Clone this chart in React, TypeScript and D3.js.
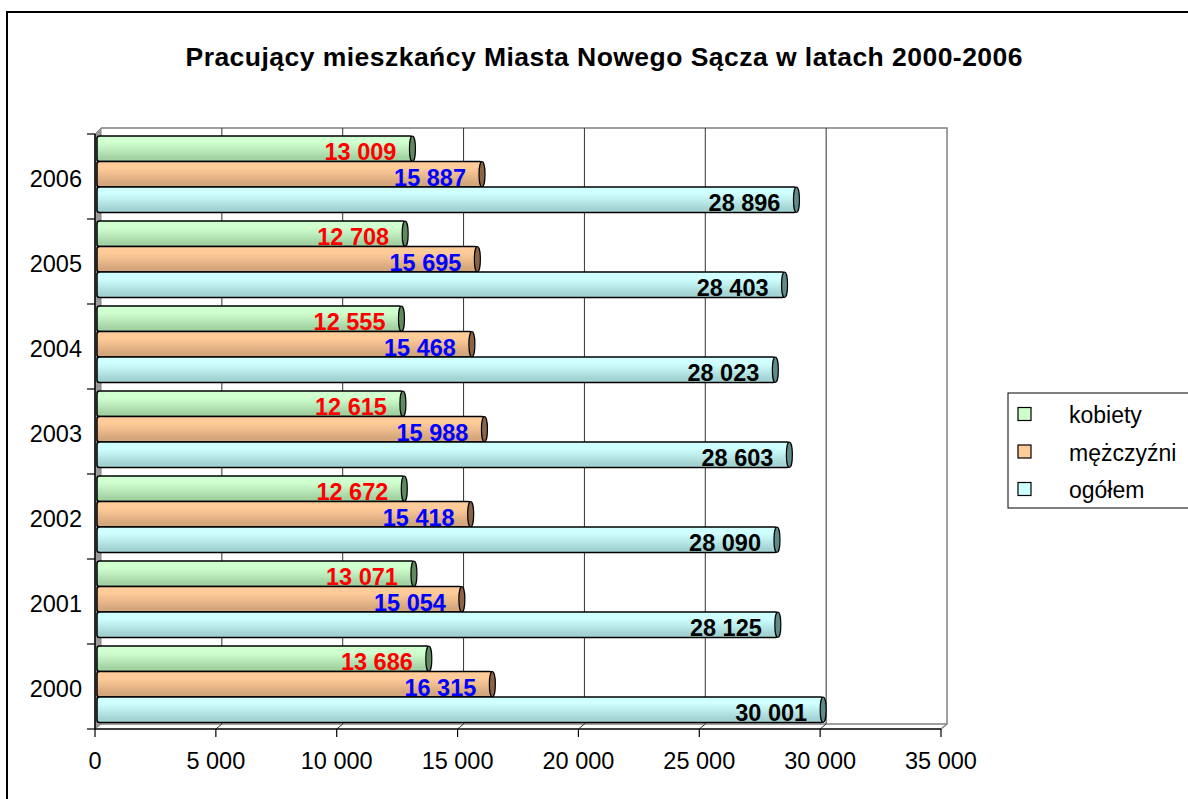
import React from "react";
import * as d3 from "d3";

const years = ["2000", "2001", "2002", "2003", "2004", "2005", "2006"];
const kobiety = [13686, 13071, 12672, 12615, 12555, 12708, 13009];
const mezczyzni = [16315, 15054, 15418, 15988, 15468, 15695, 15887];
const ogolem = [30001, 28125, 28090, 28603, 28023, 28403, 28896];
const seriesNames = ["kobiety", "mężczyźni", "ogółem"];
const xTicks = [0, 5000, 10000, 15000, 20000, 25000, 30000, 35000];
const title = "Pracujący mieszkańcy Miasta Nowego Sącza w latach 2000-2006";

const seriesStyle = [
  { top: "#d0ffd0", mid: "#bfeebf", bot: "#a3d3a3", cap: "#5e8a5e", sw: "#ccffcc", label: "#ff0000" },
  { top: "#ffcc99", mid: "#efbd8e", bot: "#d4a67c", cap: "#8a6444", sw: "#ffcc99", label: "#0000ff" },
  { top: "#d0ffff", mid: "#bfeeee", bot: "#a3d3d3", cap: "#5e8a8a", sw: "#ccffff", label: "#000000" },
];

const fmt = d3
  .formatLocale({ decimal: ",", thousands: "\u00a0", grouping: [3], currency: ["", ""] })
  .format(",d");

const FONT = "Arial, 'Liberation Sans', sans-serif";

export default function App() {
  const W = 1188;
  const H = 799;
  const x0 = 95;
  const x1 = 941;
  const yTop = 134;
  const yBot = 729;
  const dx = 6;
  const dy = -5;

  const x = d3.scaleLinear().domain([0, 35000]).range([x0, x1]);
  const yCat = d3.scaleBand<string>().domain([...years].reverse()).range([yTop, yBot]).padding(0);
  const bw = yCat.bandwidth();
  const ySer = d3.scaleBand<string>().domain(seriesNames).range([2, 2 + 76.5]).padding(0);
  const bh = ySer.bandwidth();
  const data = [kobiety, mezczyzni, ogolem];

  const boundaries = d3.range(years.length + 1).map((i) => yTop + i * bw);

  return (
    <svg
      width={W}
      height={H}
      style={{ position: "absolute", left: 0, top: 0, background: "#fff" }}
      fontFamily={FONT}
    >
      <defs>
        {seriesStyle.map((s, i) => (
          <linearGradient key={i} id={`g${i}`} x1="0" y1="0" x2="0" y2="1">
            <stop offset="0" stopColor={s.top} />
            <stop offset="0.25" stopColor={s.top} />
            <stop offset="0.5" stopColor={s.mid} />
            <stop offset="0.85" stopColor={s.bot} />
            <stop offset="1" stopColor={s.bot} />
          </linearGradient>
        ))}
      </defs>
      <rect x={7} y={12} width={1220} height={820} fill="#fff" stroke="#000" strokeWidth={2} />

      <text
        x={604}
        y={66}
        textAnchor="middle"
        fontWeight="bold"
        fontSize={26.5}
        textLength={837}
        lengthAdjust="spacing"
      >
        {title}
      </text>

      {/* left wall */}
      <polygon
        points={`${x0},${yTop} ${x0 + dx},${yTop + dy - 1} ${x0 + dx},${yBot + dy} ${x0},${yBot}`}
        fill="#9a9a9a"
        stroke="#808080"
        strokeWidth={1}
      />
      {/* back wall outline */}
      <polyline
        points={`${x0 + dx},${yTop + dy - 1} ${x1 + dx},${yTop + dy - 1} ${x1 + dx},${yBot + dy} ${x1},${yBot}`}
        fill="none"
        stroke="#808080"
        strokeWidth={1.5}
      />
      <line x1={x0 + dx} y1={yBot + dy} x2={x1 + dx} y2={yBot + dy} stroke="#808080" strokeWidth={1.5} />
      {/* gridlines */}
      {xTicks.slice(1, -1).map((v) => (
        <g key={v}>
          <line x1={x(v) + dx} x2={x(v) + dx} y1={yTop + dy - 1} y2={yBot + dy} stroke="#333" strokeWidth={1} />
          <line x1={x(v) + dx} x2={x(v)} y1={yBot + dy} y2={yBot} stroke="#333" strokeWidth={1} />
        </g>
      ))}

      {/* bars */}
      {years.map((yr, ci) =>
        seriesNames.map((sn, si) => {
          const v = data[si][ci];
          const top = (yCat(yr) as number) + (ySer(sn) as number);
          const xe = x(v) + 3;
          const xs = x0 + 2;
          return (
            <g key={`${yr}-${sn}`}>
              <rect
                x={xs}
                y={top}
                width={xe - xs}
                height={bh}
                rx={2.5}
                fill={`url(#g${si})`}
                stroke="#000"
                strokeWidth={1.5}
              />
              <ellipse
                cx={xe}
                cy={top + bh / 2}
                rx={3}
                ry={bh / 2}
                fill={seriesStyle[si].cap}
                stroke="#000"
                strokeWidth={1.2}
              />
              <text
                x={xe - 16}
                y={top + bh - 1.5}
                textAnchor="end"
                fontWeight="bold"
                fontSize={23.5}
                fill={seriesStyle[si].label}
              >
                {fmt(v)}
              </text>
            </g>
          );
        })
      )}

      {/* axes */}
      <line x1={x0} x2={x1} y1={yBot} y2={yBot} stroke="#000" strokeWidth={1.5} />
      {xTicks.map((v) => (
        <g key={v}>
          <line x1={x(v)} x2={x(v)} y1={yBot} y2={yBot + 8} stroke="#000" strokeWidth={1.2} />
          <text x={x(v)} y={769} textAnchor="middle" fontSize={23.5} fill="#000">
            {fmt(v)}
          </text>
        </g>
      ))}
      <line x1={x0} x2={x0} y1={yTop} y2={yBot} stroke="#000" strokeWidth={1.5} />
      {boundaries.map((b, i) => (
        <line key={i} x1={x0 - 8} x2={x0} y1={b} y2={b} stroke="#000" strokeWidth={1.2} />
      ))}
      {years.map((yr) => (
        <text
          key={yr}
          x={82}
          y={(yCat(yr) as number) + bw / 2 + 10.5}
          textAnchor="end"
          fontSize={23.5}
          fill="#000"
        >
          {yr}
        </text>
      ))}

      {/* legend */}
      <rect x={1008} y={393} width={220} height={115} fill="#fff" stroke="#000" strokeWidth={1} />
      {seriesNames.map((sn, i) => {
        const cy = 414 + i * 37.5;
        return (
          <g key={sn}>
            <rect x={1018} y={cy - 6.5} width={13} height={13} fill={seriesStyle[i].sw} stroke="#000" strokeWidth={1.2} />
            <text x={1069} y={cy + 9} fontSize={23} fill="#000">
              {sn}
            </text>
          </g>
        );
      })}
    </svg>
  );
}
